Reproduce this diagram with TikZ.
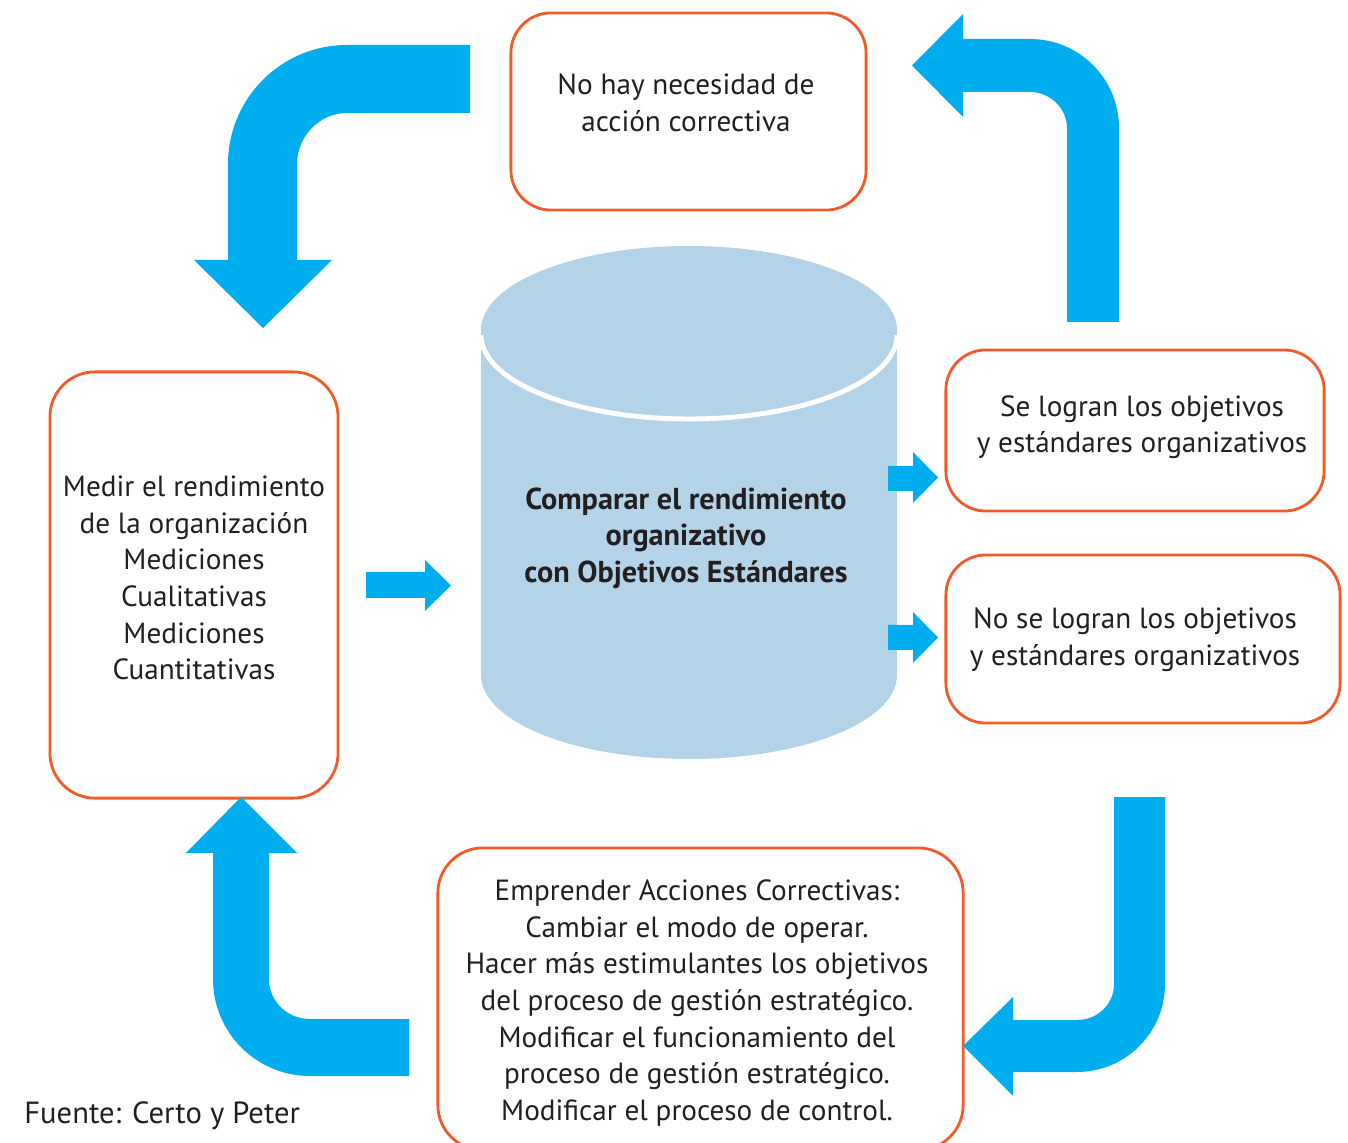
\documentclass[tikz,border=0pt]{standalone}
\usepackage{fontspec}
\setmainfont{PT Sans}
\usepackage{xcolor}
\usepackage{tikz}

\definecolor{flowblue}{HTML}{00AEEF}
\definecolor{cylblue}{HTML}{B3D3E8}
\definecolor{boxorange}{HTML}{F15A29}
\definecolor{textgray}{HTML}{231F20}

\begin{document}
\begin{tikzpicture}[x=0.01cm, y=-0.01cm,
        box/.style={draw=boxorange, line width=0.8pt, rounded corners=0.4cm, fill=white},
        txt/.style={align=center, text=textgray, font=\fontsize{8.3}{10.4}\selectfont},
        flow/.style={fill=flowblue}]
            \clip (0,0) rectangle (1348,1143);

            % cylinder
            \fill[cylblue] (481,330) rectangle (897,675);
            \fill[cylblue] (689,675) ellipse[x radius=208, y radius=84];
            \fill[cylblue] (689,330) ellipse[x radius=208, y radius=84];
            \begin{scope}
                \clip (481,336) rectangle (897,430);
                \draw[white, line width=1.4pt] (689,335) ellipse[x radius=208, y radius=84];
            \end{scope}
            \node[txt, font=\fontsize{8.6}{10.4}\selectfont\bfseries] (compare) at (686,538) {Comparar el rendimiento\\organizativo\\con Objetivos Estándares};

            % boxes
            \node[box, minimum width=3.55cm, minimum height=1.97cm] (noNeed) at (688.5,111.5) {};
            \node[txt] (noNeedText) at (686,103) {No hay necesidad de\\acción correctiva};

            \node[box, minimum width=2.88cm, minimum height=4.26cm, rounded corners=0.45cm] (measure) at (194,585) {};
            \node[txt] (measureText) at (194,578) {Medir el rendimiento\\de la organización\\Mediciones\\Cualitativas\\Mediciones\\Cuantitativas};

            \node[box, minimum width=3.78cm, minimum height=1.61cm] (reached) at (1135,430.5) {};
            \node[txt] (reachedText) at (1142,427) {Se logran los objetivos\\y estándares organizativos};

            \node[box, minimum width=3.94cm, minimum height=1.68cm] (notReached) at (1143,639) {};
            \node[txt] (notReachedText) at (1135,640) {No se logran los objetivos\\y estándares organizativos};

            \node[box, minimum width=5.25cm, minimum height=3.02cm, rounded corners=0.45cm] (correct) at (700.5,999) {};
            \node[txt] (correctText) at (697,1003) {Emprender Acciones Correctivas:\\Cambiar el modo de operar.\\Hacer más estimulantes los objetivos\\del proceso de gestión estratégico.\\Modificar el funcionamiento del\\proceso de gestión estratégico.\\Modificar el proceso de control.};

            \node[txt, anchor=west, font=\fontsize{8.7}{10.4}\selectfont] (source) at (12,1116) {Fuente: Certo y Peter};

            % big arrows
            \fill[flow] (470,45) -- (347,45) .. controls (281.3,45) and (228,98.3) .. (228,164) -- (228,260) -- (194,260) -- (263,328) -- (332,260) -- (297,260) -- (297,164) .. controls (297,136.4) and (319.4,113) .. (347,113) -- (470,113) -- cycle; % to measure
            \fill[flow] (1119,322) -- (1119,128) .. controls (1119,78.8) and (1079.2,39) .. (1030,39) -- (963,39) -- (963,14) -- (912,65.5) -- (963,117) -- (963,92) -- (1030,92) .. controls (1050.4,92) and (1067,108.6) .. (1067,128) -- (1067,322) -- cycle; % to no need
            \fill[flow] (1114,797) -- (1165,797) -- (1165,984) .. controls (1165,1032.6) and (1125.6,1072) .. (1077,1072) -- (1013,1072) -- (1013,1096) -- (963,1046) -- (1013,997) -- (1013,1020) -- (1077,1020) .. controls (1097.4,1020) and (1114,1004.4) .. (1114,984) -- cycle; % to correct
            \fill[flow] (409,1076) -- (310,1076) .. controls (256.4,1076) and (213,1032.6) .. (213,979) -- (213,853) -- (186,853) -- (241,797) -- (297,853) -- (269,853) -- (269,979) .. controls (269,1001.6) and (287.4,1019) .. (310,1019) -- (409,1019) -- cycle; % back to measure

            % small arrows
            \fill[flow] (366,572) -- (425,572) -- (425,560) -- (451,585.5) -- (425,611) -- (425,598) -- (366,598) -- cycle; % measure-compare
            \fill[flow] (888,466) -- (913,466) -- (913,452) -- (938,477.5) -- (913,503) -- (913,491) -- (888,491) -- cycle; % compare-reached
            \fill[flow] (888,625) -- (913,625) -- (913,612) -- (938,637.5) -- (913,663) -- (913,650) -- (888,650) -- cycle; % compare-not reached
        \end{tikzpicture}
\end{document}
